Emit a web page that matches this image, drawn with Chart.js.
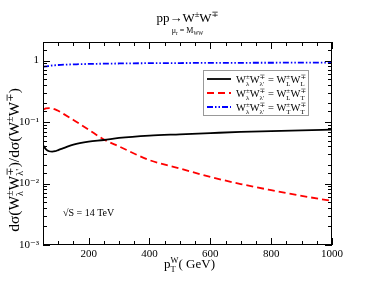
<!DOCTYPE html>
<html>
<head>
<meta charset="utf-8">
<script src="https://cdn.jsdelivr.net/npm/chart.js@4"></script>
<style>
  html, body { margin: 0; padding: 0; background: #fff; }
  #wrap { width: 374px; height: 289px; }
</style>
</head>
<body>
<div id="wrap"><canvas id="myChart" width="374" height="289"></canvas></div>
<script>
// pT of the W (GeV)
var ptValues = [50, 60, 70, 80, 90, 100, 120, 150, 200, 250, 300, 400, 500, 600, 700, 800, 900, 1000];
// ratio for W+-_L W-+_L
var ratioLL = [0.042, 0.036, 0.0335, 0.033, 0.0335, 0.035, 0.038, 0.043, 0.048, 0.051, 0.055, 0.060, 0.063, 0.066, 0.069, 0.071, 0.073, 0.075];
// ratio for W+-_L W-+_T
var ratioLT = [0.158, 0.166, 0.168, 0.166, 0.160, 0.152, 0.133, 0.108, 0.075, 0.052, 0.040, 0.024, 0.0175, 0.0128, 0.0098, 0.0078, 0.0063, 0.0052];
// ratio for W+-_T W-+_T
var ratioTT = [0.79, 0.80, 0.815, 0.83, 0.838, 0.845, 0.855, 0.865, 0.88, 0.888, 0.895, 0.905, 0.91, 0.915, 0.918, 0.92, 0.923, 0.925];

var xTicks = [200, 400, 600, 800, 1000];
var yTickLabels = {1: '1', 0.1: '10⁻¹', 0.01: '10⁻²', 0.001: '10⁻³'};

var serif = '"Liberation Serif", "DejaVu Serif", serif';

function pts(ys) {
    return ptValues.map(function (x, i) { return {x: x, y: ys[i]}; });
}

// draw text made of pieces: {t, sup, sub}
function richWidth(c, parts, size) {
    var w = 0;
    parts.forEach(function (p) {
        c.font = size + 'px ' + serif;
        var wb = c.measureText(p.t || '').width;
        c.font = (size * 0.65) + 'px ' + serif;
        var ws = Math.max(c.measureText(p.sup || '').width, c.measureText(p.sub || '').width);
        w += wb + ws;
    });
    return w;
}
function drawRich(c, parts, x, y, size) {
    parts.forEach(function (p) {
        c.font = size + 'px ' + serif;
        c.fillText(p.t || '', x, y);
        x += c.measureText(p.t || '').width;
        c.font = (size * 0.65) + 'px ' + serif;
        var w1 = 0, w2 = 0;
        if (p.sup) { c.fillText(p.sup, x, y - size * 0.4); w1 = c.measureText(p.sup).width; }
        if (p.sub) { c.fillText(p.sub, x, y + size * 0.28); w2 = c.measureText(p.sub).width; }
        x += Math.max(w1, w2);
    });
    return x;
}

var decorations = {
    id: 'decorations',
    afterDraw: function (chart) {
        var c = chart.ctx, a = chart.chartArea;
        var xs = chart.scales.x, ys = chart.scales.y;
        c.save();
        c.strokeStyle = '#000';
        c.fillStyle = '#000';
        c.lineWidth = 1;
        // frame
        c.strokeRect(a.left + 0.5, a.top + 0.5, a.right - a.left - 1, a.bottom - a.top - 1);
        // x ticks (inward, top and bottom)
        c.beginPath();
        for (var v = 50; v <= 1000; v += 50) {
            var px = Math.round(xs.getPixelForValue(v)) + 0.5;
            var len = (v % 200 === 0) ? 7 : 4;
            c.moveTo(px, a.bottom); c.lineTo(px, a.bottom - len);
            c.moveTo(px, a.top); c.lineTo(px, a.top + len);
        }
        // y ticks (inward, left and right)
        ys.ticks.forEach(function (t) {
            if (t.value < 0.001 || t.value > 2) return;
            var py = Math.round(ys.getPixelForValue(t.value)) + 0.5;
            var major = yTickLabels[t.value] !== undefined;
            var len = major ? 7 : 4;
            c.moveTo(a.left, py); c.lineTo(a.left + len, py);
            c.moveTo(a.right, py); c.lineTo(a.right - len, py);
        });
        c.stroke();

        // titles
        c.textBaseline = 'alphabetic';
        var cx = (a.left + a.right) / 2;
        var title = [{t: 'pp→W', sup: '±'}, {t: 'W', sup: '∓'}];
        drawRich(c, title, cx - richWidth(c, title, 13) / 2, 22, 13);
        var sub = [{t: 'μ', sub: 'r'}, {t: ' = M', sub: 'WW'}];
        drawRich(c, sub, cx - richWidth(c, sub, 8) / 2, 33, 8);

        var xt = [{t: 'p', sup: 'W', sub: 'T'}, {t: '( GeV)'}];
        drawRich(c, xt, cx - richWidth(c, xt, 13) / 2 + 2, 268, 13);

        c.save();
        c.translate(19, 160);
        c.rotate(-Math.PI / 2);
        var yt = [{t: 'dσ(W', sup: '±', sub: 'λ'}, {t: 'W', sup: '∓', sub: 'λ\''}, {t: ')/dσ(W', sup: '±'}, {t: 'W', sup: '∓'}, {t: ')'}];
        drawRich(c, yt, -richWidth(c, yt, 15.5) / 2, 0, 15.5);
        c.restore();

        drawRich(c, [{t: '√S = 14 TeV'}], 63, 216, 10);

        // legend
        var lx = 203, ly = 70, lw = 105, lh = 45;
        c.fillStyle = '#fff';
        c.fillRect(lx, ly, lw, lh);
        c.strokeStyle = '#999';
        c.strokeRect(lx + 0.5, ly + 0.5, lw, lh);
        var rows = [
            {color: '#000', dash: [], rhs: ['L', 'L']},
            {color: '#ff0000', dash: [7, 4], rhs: ['L', 'T']},
            {color: '#0000ff', dash: [6, 2, 1.5, 2, 1.5, 2], rhs: ['T', 'T']}
        ];
        rows.forEach(function (r, i) {
            var y = ly + 9 + i * 14;
            c.strokeStyle = r.color;
            c.lineWidth = 1.8;
            c.setLineDash(r.dash);
            c.beginPath(); c.moveTo(lx + 4, y); c.lineTo(lx + 28, y); c.stroke();
            c.setLineDash([]);
            c.fillStyle = '#000';
            drawRich(c, [{t: 'W', sup: '±', sub: 'λ'}, {t: 'W', sup: '∓', sub: 'λ\''}, {t: ' = W', sup: '±', sub: r.rhs[0]}, {t: 'W', sup: '∓', sub: r.rhs[1]}], lx + 33, y + 4, 10.5);
        });
        c.restore();
    }
};

var ctx = document.getElementById('myChart').getContext('2d');
var myChart = new Chart(ctx, {
    type: 'line',
    data: {
        datasets: [{
            label: 'LL',
            data: pts(ratioLL),
            borderColor: '#000',
            borderWidth: 1.8,
            pointRadius: 0,
            cubicInterpolationMode: 'monotone'
        }, {
            label: 'LT',
            data: pts(ratioLT),
            borderColor: '#ff0000',
            borderWidth: 1.8,
            borderDash: [7, 4],
            pointRadius: 0,
            cubicInterpolationMode: 'monotone'
        }, {
            label: 'TT',
            data: pts(ratioTT),
            borderColor: '#0000ff',
            borderWidth: 1.8,
            borderDash: [6, 2, 1.5, 2, 1.5, 2],
            pointRadius: 0,
            cubicInterpolationMode: 'monotone'
        }]
    },
    options: {
        responsive: false,
        animation: false,
        layout: { padding: { top: 42, right: 42, left: 0, bottom: 0 } },
        plugins: { legend: { display: false }, tooltip: { enabled: false } },
        scales: {
            x: {
                type: 'linear',
                min: 50,
                max: 1000,
                afterFit: function (s) { s.height = 44; },
                afterBuildTicks: function (s) { s.ticks = xTicks.map(function (v) { return {value: v}; }); },
                grid: { display: false, drawTicks: false },
                border: { display: false },
                ticks: {
                    color: '#000',
                    font: { family: serif, size: 11 },
                    padding: 3,
                    maxRotation: 0,
                    callback: function (v) { return String(v); }
                }
            },
            y: {
                type: 'logarithmic',
                min: 0.001,
                max: 2,
                afterFit: function (s) { s.width = 43; },
                grid: { display: false, drawTicks: false },
                border: { display: false },
                ticks: {
                    color: '#000',
                    font: { family: serif, size: 11 },
                    padding: 4,
                    autoSkip: false,
                    callback: function (v) { return yTickLabels[v] !== undefined ? yTickLabels[v] : ''; }
                }
            }
        }
    },
    plugins: [decorations]
});
</script>
</body>
</html>
